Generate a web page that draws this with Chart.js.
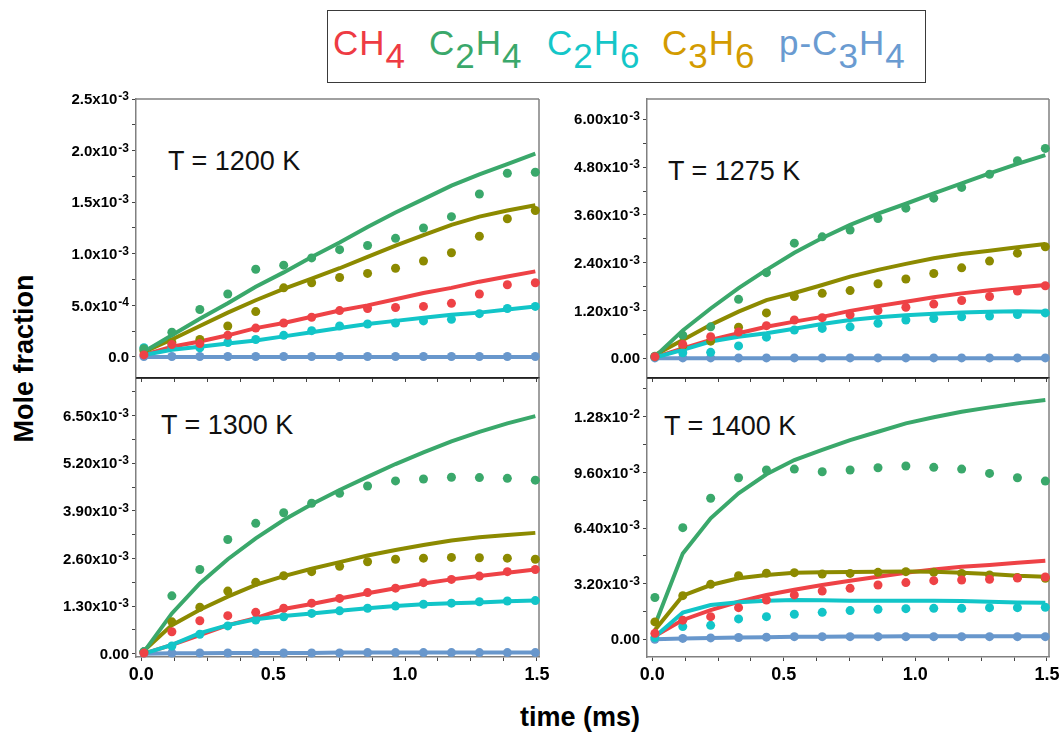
<!DOCTYPE html>
<html><head><meta charset="utf-8">
<script src="https://cdn.jsdelivr.net/npm/chart.js@4.4.0/dist/chart.umd.min.js"></script>
<style>
html,body{margin:0;padding:0;background:#fff;}
body{width:1059px;height:736px;position:relative;overflow:hidden;font-family:"Liberation Sans",Arial,sans-serif;}
canvas{position:absolute;}
#legend{position:absolute;left:327px;top:10px;width:597px;height:71px;border:1px solid #3a3a3a;}
.li{position:absolute;top:25px;font-family:"Liberation Sans",Arial,sans-serif;font-size:35px;font-weight:normal;letter-spacing:1px;white-space:nowrap;line-height:35px;}
.li sub{font-size:100%;vertical-align:baseline;position:relative;top:13px;}
.tl{position:absolute;font-size:27px;line-height:27px;color:#111;white-space:nowrap;}
.ax{position:absolute;font-size:27px;line-height:27px;font-weight:bold;color:#000;white-space:nowrap;text-align:center;width:240px;}
</style></head>
<body>
<div id="legend"></div>
<div class="li" style="left:333px;color:#ee3b43">CH<sub>4</sub></div>
<div class="li" style="left:429px;color:#3aa86b">C<sub>2</sub>H<sub>4</sub></div>
<div class="li" style="left:547px;color:#14c6c8">C<sub>2</sub>H<sub>6</sub></div>
<div class="li" style="left:662px;color:#d39b00">C<sub>3</sub>H<sub>6</sub></div>
<div class="li" style="left:779px;color:#6a9bd1">p-C<sub>3</sub>H<sub>4</sub></div>
<div class="tl" style="left:168px;top:148px">T = 1200 K</div>
<div class="tl" style="left:668px;top:158px">T = 1275 K</div>
<div class="tl" style="left:161px;top:412px">T = 1300 K</div>
<div class="tl" style="left:664px;top:413px">T = 1400 K</div>
<div class="ax" style="left:-96px;top:345px;transform:rotate(-90deg);">Mole fraction</div>
<div class="ax" style="left:460px;top:704px;">time (ms)</div>
<script>
// ---- data (mole fractions in units of 1e-3) ----
const SCALE = 1e-3;
const times = [0.01,0.116,0.222,0.328,0.434,0.54,0.646,0.752,0.858,0.964,1.07,1.176,1.282,1.388,1.494];
const species = ['CH4','C2H4','C2H6','C3H6','p-C3H4'];
const lineColors = ['#ee4246','#3aa86b','#12c5c8','#8c8a00','#6897cc'];

// T = 1200 K
const ch4Exp1200  = [0.02,0.12,0.13,0.21,0.28,0.33,0.385,0.45,0.47,0.48,0.49,0.52,0.61,0.70,0.72];
const c2h4Exp1200 = [0.08,0.24,0.46,0.61,0.85,0.89,0.96,1.04,1.08,1.15,1.25,1.36,1.58,1.78,1.79];
const c2h6Exp1200 = [0.09,0.10,0.09,0.14,0.17,0.21,0.255,0.30,0.32,0.33,0.35,0.365,0.42,0.47,0.49];
const c3h6Exp1200 = [0.06,0.14,0.17,0.30,0.44,0.67,0.72,0.77,0.81,0.86,0.93,1.01,1.17,1.34,1.42];
const pc3h4Exp1200= [0.005,0.005,0.005,0.005,0.005,0.005,0.005,0.005,0.005,0.005,0.005,0.005,0.005,0.005,0.005];
const ch4Mod1200  = [0.02,0.10,0.15,0.21,0.28,0.33,0.39,0.45,0.50,0.56,0.62,0.67,0.73,0.78,0.83];
const c2h4Mod1200 = [0.05,0.21,0.37,0.52,0.68,0.82,0.97,1.11,1.26,1.40,1.53,1.66,1.77,1.87,1.97];
const c2h6Mod1200 = [0.02,0.07,0.10,0.13,0.16,0.20,0.24,0.28,0.32,0.35,0.38,0.41,0.43,0.46,0.49];
const c3h6Mod1200 = [0.05,0.17,0.30,0.43,0.55,0.66,0.76,0.86,0.97,1.08,1.18,1.28,1.36,1.42,1.47];
const pc3h4Mod1200= [0,0,0,0,0,0,0,0,0,0,0,0,0,0,0];

// T = 1275 K
const ch4Exp1275  = [0.04,0.35,0.54,0.66,0.82,0.96,1.02,1.09,1.20,1.28,1.36,1.45,1.55,1.69,1.82];
const c2h4Exp1275 = [0.05,0.58,0.79,1.48,2.15,2.89,3.05,3.22,3.51,3.77,4.02,4.29,4.62,4.96,5.27];
const c2h6Exp1275 = [0.04,0.14,0.15,0.31,0.53,0.71,0.75,0.79,0.88,0.96,1.00,1.04,1.06,1.10,1.14];
const c3h6Exp1275 = [0.04,0.31,0.43,0.78,1.14,1.55,1.63,1.70,1.87,1.99,2.13,2.27,2.44,2.64,2.80];
const pc3h4Exp1275= [0.01,0.01,0.01,0.01,0.01,0.01,0.01,0.01,0.01,0.01,0.01,0.01,0.01,0.01,0.01];
const ch4Mod1275  = [0.02,0.25,0.46,0.63,0.79,0.92,1.04,1.19,1.31,1.42,1.53,1.63,1.71,1.78,1.84];
const c2h4Mod1275 = [0.04,0.70,1.25,1.76,2.22,2.65,3.02,3.35,3.63,3.88,4.14,4.39,4.64,4.88,5.10];
const c2h6Mod1275 = [0.02,0.21,0.42,0.54,0.63,0.74,0.86,0.96,1.03,1.08,1.12,1.15,1.17,1.18,1.17];
const c3h6Mod1275 = [0.08,0.46,0.84,1.17,1.46,1.64,1.84,2.05,2.22,2.37,2.51,2.62,2.70,2.79,2.87];
const pc3h4Mod1275= [0,0,0,0,0,0,0,0,0,0,0,0,0,0,0];

// T = 1300 K
const ch4Exp1300  = [0.02,0.60,0.90,1.04,1.13,1.24,1.38,1.51,1.67,1.79,1.94,2.03,2.12,2.24,2.30];
const c2h4Exp1300 = [0.05,1.58,2.30,3.12,3.56,3.85,4.11,4.38,4.58,4.72,4.77,4.82,4.81,4.79,4.74];
const c2h6Exp1300 = [0.05,0.21,0.53,0.76,0.92,1.01,1.10,1.17,1.24,1.30,1.35,1.38,1.42,1.44,1.45];
const c3h6Exp1300 = [0.05,0.87,1.27,1.71,1.95,2.13,2.24,2.39,2.51,2.58,2.61,2.63,2.62,2.61,2.58];
const pc3h4Exp1300= [0.02,0.02,0.02,0.02,0.02,0.02,0.02,0.02,0.03,0.03,0.03,0.03,0.03,0.03,0.03];
const ch4Mod1300  = [0.00,0.24,0.51,0.78,0.97,1.22,1.36,1.51,1.65,1.79,1.92,2.03,2.12,2.21,2.30];
const c2h4Mod1300 = [0.05,1.10,1.92,2.58,3.15,3.65,4.08,4.47,4.83,5.18,5.50,5.80,6.06,6.29,6.49];
const c2h6Mod1300 = [0.00,0.24,0.56,0.78,0.94,1.03,1.10,1.17,1.24,1.30,1.35,1.38,1.40,1.43,1.45];
const c3h6Mod1300 = [0.08,0.78,1.20,1.56,1.88,2.12,2.32,2.50,2.68,2.83,2.97,3.09,3.18,3.24,3.30];
const pc3h4Mod1300= [0.00,0.01,0.01,0.02,0.02,0.02,0.02,0.03,0.03,0.03,0.03,0.03,0.03,0.03,0.03];

// T = 1400 K
const ch4Exp1400  = [0.34,1.10,1.30,1.82,2.26,2.55,2.78,2.93,3.12,3.26,3.37,3.41,3.45,3.52,3.58];
const c2h4Exp1400 = [2.40,6.42,8.11,9.29,9.74,9.79,9.64,9.74,9.87,9.97,9.89,9.79,9.54,9.29,9.10];
const c2h6Exp1400 = [0.10,0.73,0.80,1.17,1.30,1.44,1.55,1.65,1.72,1.76,1.78,1.78,1.82,1.82,1.84];
const c3h6Exp1400 = [1.00,2.51,3.16,3.66,3.80,3.83,3.75,3.79,3.85,3.89,3.85,3.79,3.70,3.56,3.51];
const pc3h4Exp1400= [0.00,0.05,0.08,0.10,0.12,0.15,0.15,0.15,0.15,0.15,0.15,0.15,0.15,0.15,0.15];
const ch4Mod1400  = [0.19,1.11,1.68,2.16,2.55,2.85,3.12,3.37,3.60,3.83,4.02,4.17,4.27,4.40,4.52];
const c2h4Mod1400 = [0.82,4.94,6.96,8.40,9.49,10.31,10.89,11.46,11.94,12.42,12.77,13.09,13.34,13.57,13.76];
const c2h6Mod1400 = [0.15,1.53,1.97,2.13,2.22,2.26,2.24,2.22,2.22,2.22,2.22,2.20,2.16,2.12,2.10];
const c3h6Mod1400 = [0.53,2.51,3.12,3.51,3.70,3.83,3.85,3.87,3.89,3.90,3.88,3.83,3.75,3.65,3.60];
const pc3h4Mod1400= [0.00,0.05,0.08,0.10,0.12,0.14,0.15,0.16,0.16,0.17,0.17,0.17,0.17,0.17,0.17];

// tick labels (mantissa part and exponent part)
const xTickVals = [0, 0.5, 1.0, 1.5];
const xTickLabels = ['0.0','0.5','1.0','1.5'];
const yTicks1200 = [0, 0.5e-3, 1.0e-3, 1.5e-3, 2.0e-3, 2.5e-3];
const yLabels1200 = ['0.0','5.0x10','1.0x10','1.5x10','2.0x10','2.5x10'];
const yExps1200   = ['','-4','-3','-3','-3','-3'];
const yTicks1275 = [0, 1.2e-3, 2.4e-3, 3.6e-3, 4.8e-3, 6.0e-3];
const yLabels1275 = ['0.00','1.20x10','2.40x10','3.60x10','4.80x10','6.00x10'];
const yExps1275   = ['','-3','-3','-3','-3','-3'];
const yTicks1300 = [0, 1.3e-3, 2.6e-3, 3.9e-3, 5.2e-3, 6.5e-3];
const yLabels1300 = ['0.00','1.30x10','2.60x10','3.90x10','5.20x10','6.50x10'];
const yExps1300   = ['','-3','-3','-3','-3','-3'];
const yTicks1400 = [0, 3.2e-3, 6.4e-3, 9.6e-3, 12.8e-3];
const yLabels1400 = ['0.00','3.20x10','6.40x10','9.60x10','1.28x10'];
const yExps1400   = ['','-3','-3','-3','-2'];

// ---- drawing ----
const AXW = 100, PADT = 12, PADR = 14, XAH = 40;
const FONT = '"Liberation Sans", Arial, sans-serif';

function buildDatasets(exp, mod) {
  const ds = [];
  const lineOrder = [4, 2, 0, 3, 1];
  mod.forEach((vals, s) => {
    ds.push({
      label: species[s] + ' model',
      data: times.map((t, i) => ({x: t, y: vals[i] * SCALE})),
      showLine: true, pointRadius: 0, borderColor: lineColors[s],
      borderWidth: 4, tension: 0, order: 2 + lineOrder[s], fill: false
    });
  });
  exp.forEach((vals, s) => {
    ds.push({
      label: species[s] + ' exp',
      data: times.map((t, i) => ({x: t, y: vals[i] * SCALE})),
      showLine: false, pointRadius: 4.5, pointBorderWidth: 0,
      pointBackgroundColor: lineColors[s], backgroundColor: lineColors[s],
      borderColor: lineColors[s], order: 0, clip: false
    });
  });
  return ds;
}

const framePlugin = {
  id: 'frame',
  beforeDatasetsDraw(chart, args, opts) {
    const a = chart.chartArea, c = chart.ctx;
    c.save();
    c.lineWidth = 1.5;
    c.strokeStyle = opts.topColor || '#808080';
    c.beginPath(); c.moveTo(a.left, a.top); c.lineTo(a.right, a.top); c.stroke();
    c.strokeStyle = '#808080';
    c.beginPath(); c.moveTo(a.right, a.top); c.lineTo(a.right, a.bottom); c.stroke();
    c.restore();
  }
};

const yLabelPlugin = {
  id: 'ylabels',
  afterDraw(chart, args, opts) {
    const s = chart.scales.y, c = chart.ctx;
    const right = chart.chartArea.left - 7;
    c.save();
    c.fillStyle = '#000';
    opts.vals.forEach((v, i) => {
      const y = s.getPixelForValue(v);
      const ex = opts.exps[i];
      let ew = 0;
      if (ex) {
        c.font = 'bold 12px ' + FONT;
        c.textAlign = 'right'; c.textBaseline = 'alphabetic';
        c.fillText(ex, right, y + 1);
        ew = c.measureText(ex).width + 1;
      }
      c.font = 'bold 15px ' + FONT;
      c.textAlign = 'right'; c.textBaseline = 'middle';
      c.fillText(opts.labels[i], right - ew, y + 1);
    });
    c.restore();
  }
};

function makePanel(box, yMin, yMax, yMaj, yLab, yExp, showX, exp, mod, isTop) {
  const w = box.R - box.L, h = box.B - box.T;
  const cv = document.createElement('canvas');
  cv.width = AXW + w + PADR; cv.height = PADT + h + XAH;
  cv.style.left = (box.L - AXW) + 'px'; cv.style.top = (box.T - PADT) + 'px';
  cv.style.width = cv.width + 'px'; cv.style.height = cv.height + 'px';
  document.body.appendChild(cv);
  const step = yMaj[1] - yMaj[0];
  const yAll = [];
  for (let v = 0; v <= yMax + 1e-12; v += step / 2) { if (v >= yMin) yAll.push(+v.toPrecision(6)); }
  const xAll = [];
  for (let k = 0; k <= 12; k++) xAll.push(k * 0.125);
  new Chart(cv, {
    type: 'scatter',
    data: {datasets: buildDatasets(exp, mod)},
    options: {
      responsive: false, animation: false, devicePixelRatio: 1,
      layout: {padding: {top: PADT, right: PADR, left: 0, bottom: 0}},
      plugins: {legend: {display: false}, tooltip: {enabled: false},
                frame: {topColor: isTop ? '#808080' : '#222'},
                ylabels: {vals: yMaj, labels: yLab, exps: yExp}},
      scales: {
        x: {
          type: 'linear', min: -0.02, max: 1.508,
          afterBuildTicks: s => { s.ticks = xAll.map(v => ({value: v})); },
          afterFit: s => { s.height = XAH; },
          ticks: {
            autoSkip: false, maxRotation: 0, padding: 3, color: '#000',
            font: {family: FONT, weight: 'bold', size: 18},
            callback: v => {
              if (!showX) return '';
              const i = xTickVals.findIndex(m => Math.abs(m - v) < 1e-9);
              return i >= 0 ? xTickLabels[i] : '';
            }
          },
          grid: {drawOnChartArea: false, drawTicks: true, tickLength: 4, tickColor: '#444', tickWidth: 1},
          border: {display: true, color: isTop ? '#222' : '#808080', width: 1.5}
        },
        y: {
          type: 'linear', min: yMin, max: yMax,
          afterBuildTicks: s => { s.ticks = yAll.map(v => ({value: v})); },
          afterFit: s => { s.width = AXW; },
          ticks: {display: false},
          grid: {drawOnChartArea: false, drawTicks: true, tickLength: 4, tickColor: '#444', tickWidth: 1},
          border: {display: true, color: '#808080', width: 1.5}
        }
      }
    },
    plugins: [framePlugin, yLabelPlugin]
  });
}

makePanel({L:136, R:539, T:99, B:378}, -0.2035e-3, 2.5e-3, yTicks1200, yLabels1200, yExps1200, false,
  [ch4Exp1200, c2h4Exp1200, c2h6Exp1200, c3h6Exp1200, pc3h4Exp1200],
  [ch4Mod1200, c2h4Mod1200, c2h6Mod1200, c3h6Mod1200, pc3h4Mod1200], true);
makePanel({L:647, R:1049, T:99, B:378}, -0.495e-3, 6.51e-3, yTicks1275, yLabels1275, yExps1275, false,
  [ch4Exp1275, c2h4Exp1275, c2h6Exp1275, c3h6Exp1275, pc3h4Exp1275],
  [ch4Mod1275, c2h4Mod1275, c2h6Mod1275, c3h6Mod1275, pc3h4Mod1275], true);
makePanel({L:136, R:539, T:378, B:657}, -0.09e-3, 7.53e-3, yTicks1300, yLabels1300, yExps1300, true,
  [ch4Exp1300, c2h4Exp1300, c2h6Exp1300, c3h6Exp1300, pc3h4Exp1300],
  [ch4Mod1300, c2h4Mod1300, c2h6Mod1300, c3h6Mod1300, pc3h4Mod1300], false);
makePanel({L:647, R:1049, T:378, B:657}, -1.02e-3, 15.03e-3, yTicks1400, yLabels1400, yExps1400, true,
  [ch4Exp1400, c2h4Exp1400, c2h6Exp1400, c3h6Exp1400, pc3h4Exp1400],
  [ch4Mod1400, c2h4Mod1400, c2h6Mod1400, c3h6Mod1400, pc3h4Mod1400], false);
</script>
</body></html>
